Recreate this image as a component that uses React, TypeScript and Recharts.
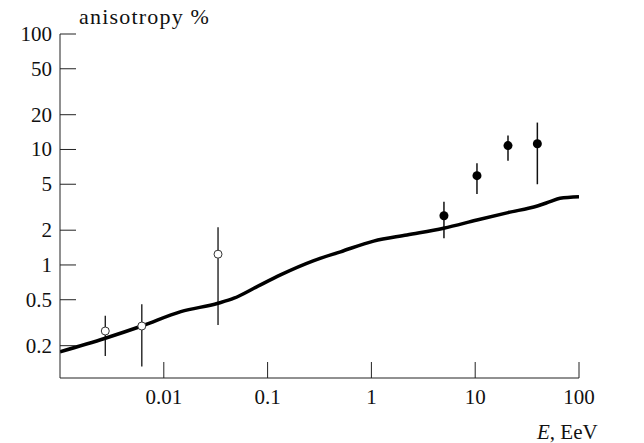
import { ComposedChart, Line, Scatter, ErrorBar, XAxis, YAxis } from 'recharts'

// model curve
const curveE = [0.001, 0.00273, 0.00614, 0.0146, 0.0333, 0.0474, 0.0738, 0.133, 0.279, 0.504, 1.05, 2.2, 4.96, 10.4, 20.7, 39.7, 52.6, 65.6, 100]
const curveA = [0.177, 0.232, 0.296, 0.394, 0.466, 0.515, 0.628, 0.82, 1.09, 1.3, 1.61, 1.82, 2.08, 2.45, 2.84, 3.24, 3.53, 3.78, 3.9]

// open circles (low energy)
const openE = [0.00273, 0.00614, 0.0333]
const openA = [0.268, 0.296, 1.24]
const openLow = [0.163, 0.132, 0.302]
const openHigh = [0.364, 0.457, 2.12]

// filled circles (high energy)
const filledE = [5, 10.4, 20.7, 39.7]
const filledA = [2.67, 5.93, 10.8, 11.2]
const filledLow = [1.7, 4.12, 8.0, 5.0]
const filledHigh = [3.53, 7.6, 13.2, 17.1]

const xTicks = [0.01, 0.1, 1, 10, 100]
const yTicks = [0.2, 0.5, 1, 2, 5, 10, 20, 50, 100]

const W = 644
const H = 443
const LEFT = 60
const TOP = 34
const RIGHT = 65
const BOTTOM = 65
const TICK_LEN = 16
const FONT = 'Liberation Serif, serif'
const INK = '#222'

const curve = curveE.map((e, i) => ({ e, a: curveA[i] }))
const openPts = openE.map((e, i) => ({ e, a: openA[i], err: [openA[i] - openLow[i], openHigh[i] - openA[i]] }))
const filledPts = filledE.map((e, i) => ({ e, a: filledA[i], err: [filledA[i] - filledLow[i], filledHigh[i] - filledA[i]] }))

function YTick(props: any) {
  const { x, y, payload } = props
  return (
    <g>
      <line x1={LEFT} x2={LEFT + TICK_LEN} y1={y} y2={y} stroke={INK} strokeWidth={1} />
      <text x={x} y={y} dy={7} textAnchor="end" style={{ fontFamily: FONT }} fontSize={21} fill="#111">
        {String(payload.value)}
      </text>
    </g>
  )
}

function XTick(props: any) {
  const { x, y, payload } = props
  const axisY = H - BOTTOM
  return (
    <g>
      <line x1={x} x2={x} y1={axisY} y2={axisY - TICK_LEN} stroke={INK} strokeWidth={1} />
      <text x={x} y={y} dy={14} textAnchor="middle" style={{ fontFamily: FONT }} fontSize={21} fill="#111">
        {String(payload.value)}
      </text>
    </g>
  )
}

const OpenDot = (props: any) => (
  <circle cx={props.cx} cy={props.cy} r={4} fill="#fff" stroke="#333" strokeWidth={1} />
)
const FilledDot = (props: any) => <circle cx={props.cx} cy={props.cy} r={4.5} fill="#000" />

export default function App() {
  return (
    <div style={{ position: 'absolute', left: 0, top: 0, background: '#fff' }}>
      <ComposedChart width={W} height={H} margin={{ top: TOP, right: RIGHT, left: 0, bottom: 0 }}>
        <XAxis
          type="number"
          dataKey="e"
          scale="log"
          domain={[0.001, 100]}
          allowDataOverflow
          ticks={xTicks}
          tick={<XTick />}
          tickLine={false}
          tickSize={0}
          tickMargin={12}
          height={BOTTOM}
          axisLine={{ stroke: INK, strokeWidth: 1 }}
          interval={0}
        />
        <YAxis
          type="number"
          dataKey="a"
          scale="log"
          domain={[0.105, 100]}
          allowDataOverflow
          ticks={yTicks}
          tick={<YTick />}
          tickLine={false}
          tickSize={0}
          tickMargin={8}
          width={LEFT}
          axisLine={{ stroke: INK, strokeWidth: 1 }}
          interval={0}
        />
        <Scatter data={openPts} dataKey="a" shape={<OpenDot />} isAnimationActive={false}>
          <ErrorBar dataKey="err" direction="y" width={0} stroke="#111" strokeWidth={1.3} />
        </Scatter>
        <Scatter data={filledPts} dataKey="a" shape={<FilledDot />} isAnimationActive={false}>
          <ErrorBar dataKey="err" direction="y" width={0} stroke="#111" strokeWidth={1.5} />
        </Scatter>
        <Line
          data={curve}
          dataKey="a"
          type="monotone"
          stroke="#000"
          strokeWidth={3.5}
          dot={false}
          activeDot={false}
          isAnimationActive={false}
        />
        <text x={79} y={24} style={{ fontFamily: FONT }} fontSize={22} letterSpacing={1.2} fill="#111">
          anisotropy %
        </text>
        <text x={537} y={439} style={{ fontFamily: FONT }} fontSize={21} fill="#111">
          <tspan fontStyle="italic">E</tspan>, EeV
        </text>
      </ComposedChart>
    </div>
  )
}
